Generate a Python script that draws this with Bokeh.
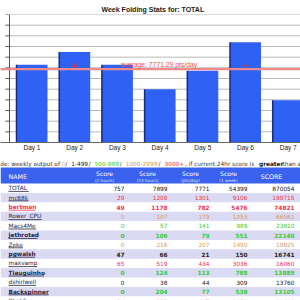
import numpy as np
from bokeh.plotting import figure
from bokeh.layouts import column
from bokeh.models import Range1d, FixedTicker, Span, Label
from bokeh.embed import file_html
from bokeh.resources import INLINE
from bokeh.core.properties import value

# ---------------- chart data ----------------
title_text = "Week Folding Stats for: TOTAL"
days = ["Day 1", "Day 2", "Day 3", "Day 4", "Day 5", "Day 6", "Day 7"]
day_points = [8230, 9590, 8230, 5630, 7600, 10630, 4489]
marker_days = [2, 6]
marker_points = [8080, 8150]
y_step = 1130
y_ticks = [y_step * k for k in range(13)]

# ---------------- table data ----------------
legend_prefix = "Color code: weekly output of"
legend_bins = ["0", "1-499", "500-999", "1000-2999", "3000+"]
legend_suffix = " , if current 24hr score is "
legend_bold = "greater"
legend_tail = " than average"
col_heads = ["Score", "Score", "Score", "Score"]
col_subs = ["(2 hours)", "(24 hours)", "(pts/day)", "(1 week)"]
last_head = "SCORE"
names = ["TOTAL", "mc68k", "bertman", "Rower_CPU", "Macs4Me", "jethroted", "Zeke",
         "pgwalsh", "maxvamp", "Tiauguinho", "dshirlwell", "Backspinner", "Khaldi"]
score_2h = [757, 29, 49, 0, 0, 0, 0, 47, 65, 0, 0, 0, 39]
score_24h = [7899, 1209, 1178, 107, 57, 106, 216, 66, 519, 124, 38, 204, 333]
score_day = [7771, 1301, 782, 179, 141, 79, 207, 21, 434, 113, 44, 77, 447]
score_week = [54399, 9106, 5476, 1253, 989, 551, 1450, 150, 3036, 788, 309, 538, 3439]
score_total = [870054, 199715, 74821, 66561, 23810, 22140, 19825, 16741, 16060, 13889, 13760, 13105, 11464]
row_bold = [False, False, True, False, False, True, False, True, False, True, False, True, False]
name_red = [False, False, True, False, False, False, False, False, False, False, False, False, False]

BIN_COLORS = ["#d8c0a0", "#222222", "#33cc33", "#d09a60", "#f03050"]
FONT = "DejaVu Sans"


def bin_color(w):
    if w <= 0:
        return BIN_COLORS[0]
    if w < 500:
        return BIN_COLORS[1]
    if w < 1000:
        return BIN_COLORS[2]
    if w < 3000:
        return BIN_COLORS[3]
    return BIN_COLORS[4]


def text_width(s, size, bold=False):
    narrow = {"i": .28, "l": .28, "j": .28, "t": .39, "f": .35, "r": .41, " ": .32,
              "m": .97, "w": .82, "_": .5, "-": .36, "/": .34, "(": .45, ")": .45,
              ":": .34, ".": .32, ",": .32, "+": .84, "M": .86, "W": .99, "I": .29}
    tot = 0.0
    for ch in s:
        if ch in narrow:
            tot += narrow[ch]
        elif ch.isdigit():
            tot += .636
        elif ch.isupper():
            tot += .70
        else:
            tot += .60
    return tot * size * (1.12 if bold else 1.0)


# ---------------- bar chart ----------------
PX_PER_DAY = 42.7
x = np.arange(1, len(days) + 1)
x_start = 1 - 31.5 / PX_PER_DAY
x_end = 1 + 268.5 / PX_PER_DAY
axis_x = x_start + 9 / PX_PER_DAY
tick_x0 = x_start + 5 / PX_PER_DAY
bar_w = 31 / PX_PER_DAY
y_top = y_ticks[-1]

p = figure(width=300, height=153, output_backend="svg", toolbar_location=None,
           x_range=Range1d(x_start, x_end), y_range=Range1d(0, y_top),
           min_border_left=0, min_border_right=0, min_border_top=14, min_border_bottom=9,
           y_axis_type=None)
p.title.text = title_text
p.title.align = "left"
p.title.offset = 101
p.title.text_font = "Liberation Sans"
p.title.text_font_size = "7px"
p.title.text_font_style = "bold"
p.title.text_color = "#222222"
p.title.standoff = 4
p.outline_line_color = None
p.grid.visible = False

# grid, y axis line and ticks
p.segment(x0=axis_x, y0=y_ticks, x1=x_end, y1=y_ticks, line_color="#b8b8b8", line_width=1)
p.segment(x0=[axis_x], y0=[0], x1=[axis_x], y1=[y_top], line_color="#555555", line_width=1)
p.segment(x0=tick_x0, y0=y_ticks, x1=axis_x, y1=y_ticks, line_color="#555555", line_width=1)

p.xaxis.ticker = FixedTicker(ticks=list(x))
p.xaxis.major_label_overrides = {int(i): d for i, d in zip(x, days)}
p.xaxis.major_tick_out = 0
p.xaxis.major_tick_in = 0
p.xaxis.minor_tick_out = 0
p.xaxis.minor_tick_in = 0
p.xaxis.axis_line_color = "#666666"
p.xaxis.major_label_standoff = 1
p.xaxis.major_label_text_font = "Liberation Sans"
p.xaxis.major_label_text_font_size = "6.5px"
p.xaxis.major_label_text_color = "#222222"

p.vbar(x=x, top=day_points, width=bar_w, fill_color="#2f62f4", line_color=None)
p.segment(x0=x - bar_w / 2, y0=0, x1=x - bar_w / 2, y1=day_points,
          line_color="#1a2a78", line_width=1.5)

avg = float(np.mean(day_points))
p.add_layout(Span(location=avg, dimension="width", line_color="#f08a8a", line_width=2.2))
p.add_layout(Label(x=1 + (120 - 31.5) / PX_PER_DAY, y=avg, y_offset=1,
                   text=f"average: {avg:.2f} pts/day",
                   text_color="#e8504f", text_font="Liberation Sans",
                   text_font_size="6.8px", text_baseline="bottom"))
p.scatter(x=marker_days, y=marker_points, marker="cross", size=6,
          line_color="#e03535", line_width=1)

# ---------------- table ----------------
t = figure(width=300, height=147, output_backend="svg", toolbar_location=None,
           x_range=Range1d(0, 300), y_range=Range1d(300, 153),
           min_border=0, x_axis_type=None, y_axis_type=None)
t.grid.visible = False
t.outline_line_color = None

# legend line
ly = 163
lsize = 5.8
sep = " / "
anchor_3000 = 164
BIN_PAD = 1.04


def bw(s):
    return text_width(s, lsize) * BIN_PAD


cx = anchor_3000
for b in legend_bins[:-1]:
    cx -= bw(b) + bw(sep)
t.text(x=[cx - 1.5], y=[ly], text=[legend_prefix], text_align="right",
       text_baseline="middle", text_font=value(FONT), text_font_size=f"{lsize}px",
       text_color="#333333")
for i, b in enumerate(legend_bins):
    t.text(x=[cx], y=[ly], text=[b], text_baseline="middle", text_font=value(FONT),
           text_font_size=f"{lsize}px", text_color=BIN_COLORS[i])
    cx += bw(b)
    if i < len(legend_bins) - 1:
        t.text(x=[cx], y=[ly], text=[sep], text_baseline="middle", text_font=value(FONT),
               text_font_size=f"{lsize}px", text_color="#333333")
        cx += bw(sep)
t.text(x=[cx], y=[ly], text=[legend_suffix], text_baseline="middle", text_font=value(FONT),
       text_font_size=f"{lsize}px", text_color="#333333")
cx += text_width(legend_suffix, lsize)
t.text(x=[cx], y=[ly], text=[legend_bold], text_baseline="middle", text_font=value(FONT),
       text_font_size=f"{lsize}px", text_color="#111111", text_font_style="bold")
cx += text_width(legend_bold, lsize, True)
t.text(x=[cx], y=[ly], text=[legend_tail], text_baseline="middle", text_font=value(FONT),
       text_font_size=f"{lsize}px", text_color="#333333")

# header
t.quad(left=[0], right=[300], top=[167], bottom=[183], fill_color="#3a62ee", line_color=None)
t.text(x=[8], y=[175.5], text=["NAME"], text_baseline="middle", text_font=value(FONT),
       text_font_size="6.3px", text_color="white")
head_cx = [104, 147, 190, 228]
t.text(x=head_cx, y=[172.5] * 4, text=col_heads, text_align="center", text_baseline="middle",
       text_font=value(FONT), text_font_size="6px", text_color="white")
t.text(x=head_cx, y=[180] * 4, text=col_subs, text_align="center", text_baseline="middle",
       text_font=value(FONT), text_font_size="4.2px", text_color="#dde4ff")
t.text(x=[271], y=[175.5], text=[last_head], text_align="center", text_baseline="middle",
       text_font=value(FONT), text_font_size="6.3px", text_color="white")

# rows
row_h = 9.4
row0 = 183
col_right = [124, 167, 209, 247, 294]
cols = [score_2h, score_24h, score_day, score_week, score_total]
nsize = 5.8
for i, nm in enumerate(names):
    top = row0 + row_h * i
    cy = top + row_h / 2
    if i % 2 == 1:
        t.quad(left=[0], right=[300], top=[top], bottom=[top + row_h],
               fill_color="#dadaf2", line_color=None)
    col = "#111111" if i == 0 else bin_color(score_week[i])
    style = "bold" if row_bold[i] else "normal"
    ncol = "#f03050" if name_red[i] else "#222244"
    t.text(x=[8], y=[cy], text=[nm], text_baseline="middle", text_font=value(FONT),
           text_font_size=f"{nsize}px", text_color=ncol, text_font_style=style)
    w = text_width(nm, nsize, row_bold[i])
    t.segment(x0=[8], y0=[cy + 3.2], x1=[8 + w], y1=[cy + 3.2], line_color=ncol, line_width=0.8)
    vals = [str(c[i]) for c in cols]
    t.text(x=col_right, y=[cy] * 5, text=vals, text_align="right", text_baseline="middle",
           text_font=value(FONT), text_font_size=f"{nsize}px", text_color=col,
           text_font_style=style)

layout = column(p, t, spacing=0)
open("out.html", "w").write(file_html(layout, INLINE))
